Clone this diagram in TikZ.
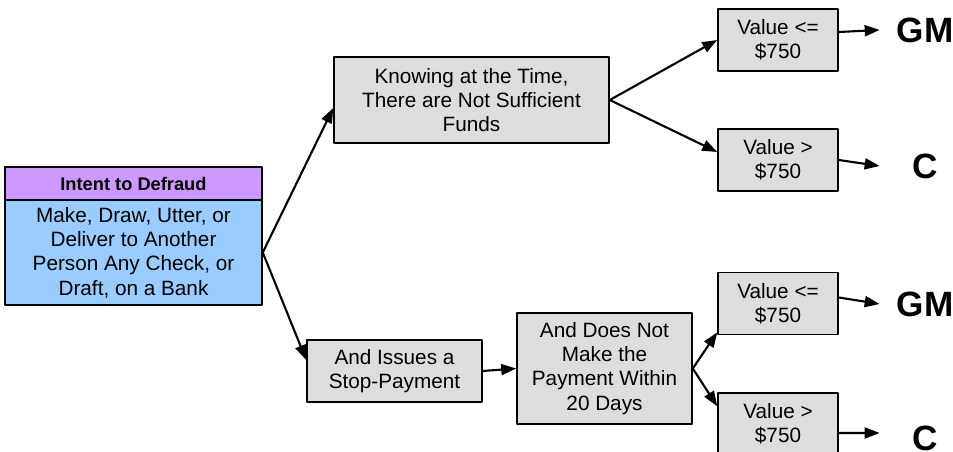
\documentclass[tikz,border=0pt]{standalone}
\usepackage{fontspec}
\setmainfont{Liberation Sans}
\usetikzlibrary{arrows.meta}
\definecolor{tim}{RGB}{204,153,255}
\definecolor{xanh}{RGB}{153,204,255}
\definecolor{xam}{RGB}{221,221,221}
\begin{document}
\begin{tikzpicture}[x=0.02cm, y=-0.02cm, line join=round, >={Triangle[length=0.3cm,width=0.22cm]}]
	\tikzset{o/.style={draw, line width=0.9pt, fill=xam, align=center, inner sep=0pt, font=\fontsize{11.8}{13.8}\selectfont},
		kq/.style={font=\bfseries\fontsize{20}{24}\selectfont, minimum width=1.8cm, inner sep=0pt}}
	\useasboundingbox (0,0) rectangle (953,452);
	% Các ô
	\node[o, fill=tim, minimum width=5.14cm, minimum height=0.66cm, font=\bfseries\fontsize{10.4}{12}\selectfont] (hd) at (133.5,183.5) {Intent to Defraud};
	\node[o, fill=xanh, minimum width=5.14cm, minimum height=2.1cm] (md) at (133.5,252.5) {Make, Draw, Utter, or\\Deliver to Another\\Person Any Check, or\\Draft, on a Bank};
	\node[o, minimum width=5.5cm, minimum height=1.72cm] (k) at (471.5,100) {Knowing at the Time,\\There are Not Sufficient\\Funds};
	\node[o, minimum width=3.5cm, minimum height=1.24cm] (s) at (394.5,371) {And Issues a\\Stop-Payment};
	\node[o, minimum width=3.5cm, minimum height=2.22cm] (d) at (604.5,368.5) {And Does Not\\Make the\\Payment Within\\20 Days};
	\node[o, minimum width=2.4cm, minimum height=1.24cm] (v1) at (778,40) {Value <=\\\$750};
	\node[o, minimum width=2.4cm, minimum height=1.24cm] (v2) at (778,160) {Value >\\\$750};
	\node[o, minimum width=2.4cm, minimum height=1.24cm] (v3) at (778,303.5) {Value <=\\\$750};
	\node[o, minimum width=2.4cm, minimum height=1.24cm] (v4) at (778,424) {Value >\\\$750};
	\node[kq] (g1) at (925,30) {GM};
	\node[kq] (c1) at (925,166) {C};
	\node[kq] (g2) at (925,304) {GM};
	\node[kq] (c2) at (925,438) {C};
	% Mũi tên
	\begin{scope}[line width=1.2pt, ->]
		\draw (md.east) -- ([yshift=-0.16cm]k.west);
		\draw (md.east) -- ([yshift=0.22cm]s.west);
		\draw (k.east) -- (v1.west);
		\draw (k.east) -- ([yshift=0.16cm]v2.west);
		\draw (s.east) -- (d.west);
		\draw (d.east) -- ([yshift=0.06cm]v3.south west);
		\draw (d.east) -- ([yshift=-0.28cm]v4.north west);
		\draw ([yshift=0.16cm]v1.east) -- (g1.west);
		\draw (v2.east) -- (c1.west);
		\draw ([yshift=0.12cm]v3.east) -- (g2.west);
		\draw ([yshift=-0.18cm]v4.east) -- ([yshift=0.1cm]c2.west);
	\end{scope}
\end{tikzpicture}
\end{document}
